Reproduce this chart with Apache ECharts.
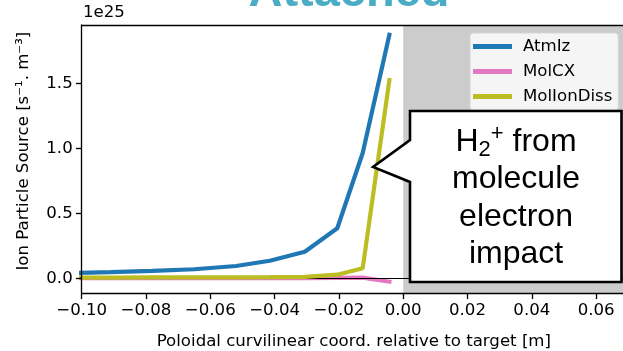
<!DOCTYPE html>
<html>
<head>
<meta charset="utf-8">
<script src="https://cdn.jsdelivr.net/npm/echarts@6/dist/echarts.min.js"></script>
<style>
  html, body { margin: 0; padding: 0; background: #ffffff; }
  #chart { width: 623px; height: 351px; }
</style>
</head>
<body>
<div id="chart"></div>
<script>
// poloidal position of each cell centre [m] (shared by all three sources)
var xPos = [-0.105, -0.091, -0.078, -0.065, -0.052, -0.0415, -0.0306, -0.0205, -0.0126, -0.0043];
// ion particle sources, in units of 1e25 s^-1 m^-3
var atmIz = [0.040, 0.048, 0.057, 0.070, 0.095, 0.135, 0.205, 0.385, 0.964, 1.872];
var molCX = [0.001, 0.001, 0.001, 0.001, 0.001, 0.001, 0.002, 0.003, 0.005, -0.026];
var molIonDiss = [0.006, 0.006, 0.007, 0.007, 0.008, 0.009, 0.011, 0.028, 0.077, 1.525];

var seriesNames = ['AtmIz', 'MolCX', 'MolIonDiss'];
var seriesColors = ['#1f77b4', '#e377c2', '#bcbd22'];

// axis limits
var xMin = -0.10, xMax = 0.0693, xStep = 0.02;
var yMin = -0.115, yMax = 1.948;
// shaded region beyond the target
var spanStart = 0.0;

var calloutLines = ['{n|H}{sub|2}{sup|+}{n| from}', '{n|molecule}', '{n|electron}', '{n|impact}'];

function pairs(xs, ys) {
  var out = [];
  for (var i = 0; i < xs.length; i++) out.push([xs[i], ys[i]]);
  return out;
}

function minusSign(s) {
  return s.replace('-', '\u2212');
}

var axisFont = 'DejaVu Sans';
var chart = echarts.init(document.getElementById('chart'), null, { renderer: 'canvas' });

var lineSeries = [atmIz, molCX, molIonDiss].map(function (vals, i) {
  return {
    name: seriesNames[i],
    type: 'line',
    data: pairs(xPos, vals),
    symbol: 'none',
    z: 3 + i,
    color: seriesColors[i],
    lineStyle: { width: 4.2, color: seriesColors[i], cap: 'square' },
    animation: false
  };
});

var option = {
  backgroundColor: '#ffffff',
  animation: false,
  grid: { left: 81.7, top: 25, right: -3, bottom: 57.7, containLabel: false, outerBoundsMode: 'none' },
  legend: {
    data: seriesNames,
    orient: 'vertical',
    left: 470,
    top: 33,
    padding: [5, 6, 5, 3],
    itemGap: 8,
    itemWidth: 39,
    itemHeight: 5,
    icon: 'rect',
    backgroundColor: 'rgba(255,255,255,0.8)',
    borderColor: '#d5d5d5',
    borderWidth: 1,
    borderRadius: 3,
    textStyle: { fontFamily: axisFont, fontSize: 16.6, fontWeight: 'normal', color: '#000', lineHeight: 17, padding: [0, 0, 0, 6] }
  },
  xAxis: [{
    type: 'value',
    min: xMin,
    max: xMax,
    interval: xStep,
    z: 6,
    name: 'Poloidal curvilinear coord. relative to target [m]',
    nameLocation: 'middle',
    nameGap: 40,
    nameTextStyle: { fontFamily: axisFont, fontSize: 16.6, color: '#000' },
    axisLine: { show: true, onZero: false, lineStyle: { color: '#000', width: 1.33 } },
    axisTick: { show: true, inside: false, length: 5.8, lineStyle: { color: '#000', width: 1.33 } },
    axisLabel: {
      margin: 9,
      showMaxLabel: false,
      fontFamily: axisFont, fontSize: 16.6, color: '#000',
      formatter: function (v) { return minusSign(v.toFixed(2)); }
    },
    splitLine: { show: false }
  }, {
    // top spine only
    type: 'value',
    position: 'top',
    min: xMin,
    max: xMax,
    z: 6,
    axisLine: { show: true, onZero: false, lineStyle: { color: '#000', width: 1.33 } },
    axisTick: { show: false },
    axisLabel: { show: false },
    splitLine: { show: false }
  }],
  yAxis: {
    type: 'value',
    min: yMin,
    max: yMax,
    splitNumber: 5,
    z: 6,
    name: 'Ion Particle Source [s\u207B\u00B9. m\u207B\u00B3]',
    nameLocation: 'middle',
    nameGap: 50,
    nameTextStyle: { fontFamily: axisFont, fontSize: 16.6, color: '#000', padding: [0, 0, 0, 16] },
    axisLine: { show: true, onZero: false, lineStyle: { color: '#000', width: 1.33 } },
    axisTick: { show: true, inside: false, length: 5.8, lineStyle: { color: '#000', width: 1.33 } },
    axisLabel: {
      margin: 9,
      showMinLabel: false,
      showMaxLabel: false,
      fontFamily: axisFont, fontSize: 16.6, color: '#000',
      formatter: function (v) {
        if (Math.abs(v * 2 - Math.round(v * 2)) > 1e-6) return '';
        return minusSign(v.toFixed(1));
      }
    },
    splitLine: { show: false }
  },
  series: [{
    // gray span past the target and the thin zero line
    name: 'background',
    type: 'line',
    data: [],
    z: 1,
    silent: true,
    markArea: {
      silent: true,
      itemStyle: { color: '#cccccc' },
      data: [[{ xAxis: spanStart }, { xAxis: xMax }]]
    },
    markLine: {
      silent: true,
      symbol: 'none',
      label: { show: false },
      lineStyle: { color: '#000', width: 1, type: 'solid' },
      data: [{ yAxis: 0 }]
    }
  }].concat(lineSeries),
  graphic: [{
    type: 'text',
    left: 83,
    top: 4,
    style: { text: '1e25', font: '16.6px "DejaVu Sans"', fill: '#000' }
  }, {
    type: 'text',
    x: 349,
    y: -6.5,
    style: {
      text: 'Attached', font: 'bold 47px "Liberation Sans"', fill: '#4bacc6',
      textAlign: 'center', textVerticalAlign: 'middle'
    }
  }, {
    // callout box with its pointer
    type: 'polygon',
    z: 100,
    shape: { points: [[410, 111], [621.5, 111], [621.5, 282], [410, 282], [410, 182], [373, 167], [410, 140]] },
    style: { fill: '#ffffff', stroke: '#000', lineWidth: 2.6, lineJoin: 'miter' }
  }, {
    type: 'text',
    z: 101,
    x: 516,
    y: 198,
    style: {
      text: calloutLines.join('\n'),
      textAlign: 'center',
      textVerticalAlign: 'middle',
      fill: '#000',
      rich: {
        n: { fontFamily: 'Liberation Sans', fontSize: 32, lineHeight: 37.5, fill: '#000' },
        sub: { fontFamily: 'Liberation Sans', fontSize: 22, lineHeight: 22, verticalAlign: 'bottom', fill: '#000' },
        sup: { fontFamily: 'Liberation Sans', fontSize: 22, lineHeight: 24, verticalAlign: 'top', fill: '#000' }
      }
    }
  }]
};

chart.setOption(option);
</script>
</body>
</html>
